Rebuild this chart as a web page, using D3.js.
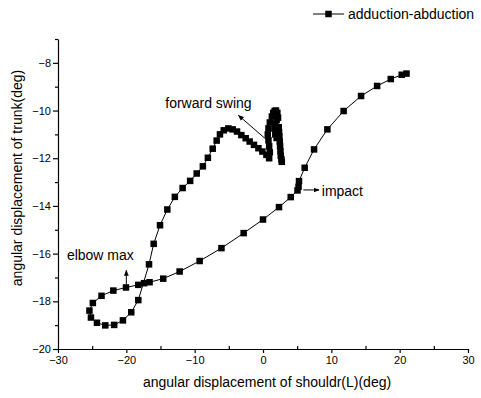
<!DOCTYPE html>
<html>
<head>
<meta charset="utf-8">
<script src="https://cdn.jsdelivr.net/npm/d3@7"></script>
<style>
body { margin: 0; background: #fff; }
text { font-family: "Liberation Sans", Arial, sans-serif; fill: #000; }
</style>
</head>
<body>
<div id="viz"></div>
<script>
// shoulder (x) and trunk (y) angular displacement, in drawing order
var shoulder = [21.0, 20.3, 18.7, 16.7, 14.35, 11.8, 9.42, 7.47, 6.1, 5.27, 5.2, 5.05, 4.06, 2.34, 0.0,
  -2.83, -6.08, -9.27, -12.2, -14.6, -16.6, -17.4, -18.25, -20.05, -21.9, -23.63, -24.9, -25.4, -25.18,
  -24.3, -23.08, -21.78, -20.5, -19.28, -18.25, -16.68, -16.0, -15.07, -14.0, -12.9, -11.76, -10.66,
  -9.7, -8.8, -8.07, -7.36, -6.78, -6.3, -5.75, -5.07, -4.44, -3.8, -3.17, -2.53, -1.95, -1.32, -0.67,
  -0.09, 0.5, 0.9, 1.0, 0.9, 0.8, 0.7, 0.8, 1.0, 1.3, 1.5, 1.7, 1.9, 2.1, 2.2, 2.0, 1.8, 1.7, 1.8, 2.0,
  2.2, 2.3, 2.35, 2.4, 2.45, 2.5, 2.55, 2.6, 2.7, 2.75];
var trunk = [-8.45, -8.5, -8.68, -8.97, -9.39, -10.02, -10.79, -11.63, -12.4, -12.96, -13.2, -13.35, -13.63, -14.05, -14.57,
  -15.14, -15.77, -16.31, -16.75, -17.05, -17.2, -17.24, -17.31, -17.42, -17.55, -17.77, -18.07, -18.39, -18.68,
  -18.9, -19.01, -18.99, -18.8, -18.46, -17.95, -16.45, -15.59, -14.81, -14.15, -13.62, -13.25, -12.95,
  -12.64, -12.34, -11.98, -11.6, -11.26, -11.0, -10.83, -10.75, -10.79, -10.88, -11.03, -11.16, -11.3, -11.44, -11.58,
  -11.72, -11.86, -12.0, -11.75, -11.5, -11.25, -11.0, -10.75, -10.5, -10.25, -10.1, -10.02, -10.0, -10.1, -10.3, -10.4, -10.55, -10.75, -11.0, -11.15,
  -10.9, -10.7, -10.9, -11.1, -11.3, -11.5, -11.7, -11.9, -12.05, -12.15];

var xTicks = [-30, -20, -10, 0, 10, 20, 30];
var xMinor = [-25, -15, -5, 5, 15, 25];
var yTicks = [-20, -18, -16, -14, -12, -10, -8];
var yMinor = [-19, -17, -15, -13, -11, -9, -7];

var seriesName = "adduction-abduction";
var xTitle = "angular displacement of shouldr(L)(deg)";
var yTitle = "angular displacement of trunk(deg)";

var notes = [
  {text: "forward swing", x: -14.3, y: -9.9, ax: [0.5, -11.22], ah: [-3.6, -10.2]},
  {text: "impact", x: 8.6, y: -13.6, ax: [5.9, -13.33], ah: [8.2, -13.33]},
  {text: "elbow max", x: -28.7, y: -16.25, ax: [-20.0, -17.3], ah: [-20.0, -16.7]}
];

var width = 481, height = 398;
var margin = {top: 39, right: 13, bottom: 49, left: 58};

var svg = d3.select("#viz").append("svg")
  .attr("width", width)
  .attr("height", height);

svg.append("defs").append("marker")
  .attr("id", "head")
  .attr("viewBox", "0 0 10 10")
  .attr("refX", 9).attr("refY", 5)
  .attr("markerWidth", 6).attr("markerHeight", 6)
  .attr("markerUnits", "userSpaceOnUse")
  .attr("orient", "auto")
  .append("path").attr("d", "M0,1 L10,5 L0,9 Z").attr("fill", "#000");

var x = d3.scaleLinear().domain([-30, 30]).range([margin.left, width - margin.right]);
var y = d3.scaleLinear().domain([-20, -7]).range([height - margin.bottom, margin.top]);

svg.append("g").attr("transform", "translate(0," + y(-20) + ")")
  .call(d3.axisBottom(x).tickValues(xTicks).tickSize(4).tickPadding(3).tickSizeOuter(0));
svg.append("g").attr("transform", "translate(0," + y(-20) + ")")
  .call(d3.axisTop(x).tickValues(xMinor).tickSize(3).tickFormat("").tickSizeOuter(0))
  .select(".domain").remove();

svg.append("g").attr("transform", "translate(" + x(-30) + ",0)")
  .call(d3.axisLeft(y).tickValues(yTicks).tickSize(5).tickPadding(2).tickSizeOuter(0));
svg.append("g").attr("transform", "translate(" + x(-30) + ",0)")
  .call(d3.axisLeft(y).tickValues(yMinor).tickSize(3).tickFormat("").tickSizeOuter(0))
  .select(".domain").remove();

svg.selectAll(".tick text")
  .attr("font-family", "Liberation Sans, Arial, sans-serif")
  .attr("font-size", 11);
svg.selectAll(".domain, .tick line").attr("stroke-width", 1.2);

svg.append("text")
  .attr("x", x(0) + 4).attr("y", 387)
  .attr("text-anchor", "middle")
  .attr("font-size", 14)
  .text(xTitle);

svg.append("text")
  .attr("transform", "translate(22," + (y(-13.5) - 16) + ") rotate(-90)")
  .attr("text-anchor", "middle")
  .attr("font-size", 14)
  .text(yTitle);

var pts = shoulder.map(function(d, i) { return [d, trunk[i]]; });

svg.append("path")
  .datum(pts)
  .attr("fill", "none")
  .attr("stroke", "#000")
  .attr("stroke-width", 1)
  .attr("d", d3.line().x(function(d) { return x(d[0]); }).y(function(d) { return y(d[1]); }));

var ms = 6.5;
svg.selectAll(".pt").data(pts).enter().append("rect")
  .attr("class", "pt")
  .attr("x", function(d) { return x(d[0]) - ms / 2; })
  .attr("y", function(d) { return y(d[1]) - ms / 2; })
  .attr("width", ms).attr("height", ms)
  .attr("fill", "#000");

notes.forEach(function(n) {
  svg.append("line")
    .attr("x1", x(n.ax[0])).attr("y1", y(n.ax[1]))
    .attr("x2", x(n.ah[0])).attr("y2", y(n.ah[1]))
    .attr("stroke", "#000").attr("stroke-width", 1)
    .attr("marker-end", "url(#head)");
  svg.append("text")
    .attr("x", x(n.x)).attr("y", y(n.y))
    .attr("font-size", 14)
    .text(n.text);
});

// legend
var lg = svg.append("g").attr("transform", "translate(313,14)");
lg.append("line").attr("x1", 0).attr("x2", 31).attr("y1", 0).attr("y2", 0)
  .attr("stroke", "#000").attr("stroke-width", 1);
lg.append("rect").attr("x", 15.5 - ms / 2).attr("y", -ms / 2).attr("width", ms).attr("height", ms)
  .attr("fill", "#000");
lg.append("text").attr("x", 35).attr("y", 5).attr("font-size", 14).text(seriesName);
</script>
</body>
</html>
